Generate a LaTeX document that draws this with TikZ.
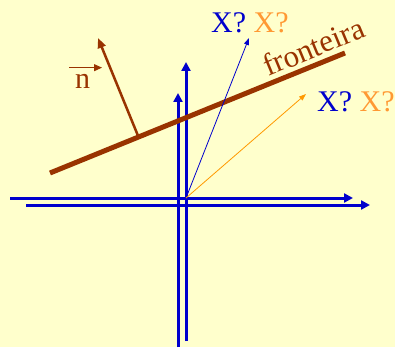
\documentclass[tikz,border=0pt]{standalone}
\usepackage{fontspec}
\setmainfont{Liberation Serif}
\usetikzlibrary{arrows.meta, calc}
\definecolor{fundo}{HTML}{FFFFCC}
\definecolor{azul}{HTML}{0000CC}
\definecolor{laranja}{HTML}{FF9933}
\definecolor{laranjaseta}{HTML}{FF9900}
\definecolor{marrom}{HTML}{993300}
\tikzset{
  eixo/.style={azul, line width=3pt, -{Triangle[length=9pt, width=9pt]}},
  vetor/.style={line width=0.8pt, -{Triangle[length=7pt, width=5pt]}},
  rotulo/.style={inner sep=0pt, font=\fontsize{30}{32}\selectfont}
}
\begin{document}
\begin{tikzpicture}[x=1pt, y=-1pt]
\fill[fundo] (0,0) rectangle (395,347);
\useasboundingbox (0,0) rectangle (395,347);
\coordinate (h1a) at (10,198);
\coordinate (h1b) at (353,198);
\coordinate (h2a) at (26,205);
\coordinate (h2b) at (370,205);
\coordinate (v1a) at (178,347);
\coordinate (v1b) at (178,93);
\coordinate (v2a) at (186,341);
\coordinate (v2b) at (186,62);
\coordinate (O) at (186,198);
\draw[eixo] (h1a) -- (h1b);
\draw[eixo] (h2a) -- (h2b);
\draw[eixo] (v1a) -- (v1b);
\draw[eixo] (v2a) -- (v2b);
\coordinate (f1) at (50,173);
\coordinate (f2) at (345,53);
\coordinate (nb) at ($(f1)!0.3!(f2)$);
\coordinate (nt) at (98,38);
\draw[marrom, line width=5pt] (f1) -- (f2);
\draw[marrom, line width=2.5pt, -{Triangle[length=10pt, width=8pt]}] (nb) -- (nt);
\node[rotulo, anchor=base west, text=marrom] (n) at (75,89) {n};
\draw[marrom, line width=1pt, -{Triangle[length=8pt, width=7pt]}] ([xshift=-6pt, yshift=7pt]n.north west) -- ([xshift=27pt, yshift=7pt]n.north west);
\node[rotulo, anchor=base west, text=marrom, rotate=22.5, font=\fontsize{31}{33}\selectfont] (fronteira) at (268,77) {fronteira};
\node[rotulo, anchor=base west] (x1) at (211,33) {\textcolor{azul}{X?} \textcolor{laranja}{X?}};
\node[rotulo, anchor=base west] (x2) at (317,112) {\textcolor{azul}{X?} \textcolor{laranja}{X?}};
\coordinate (p1) at (249,38);
\coordinate (p2) at (306,94);
\draw[vetor, azul] (O) -- (p1);
\draw[vetor, laranjaseta] (O) -- (p2);
\end{tikzpicture}
\end{document}
